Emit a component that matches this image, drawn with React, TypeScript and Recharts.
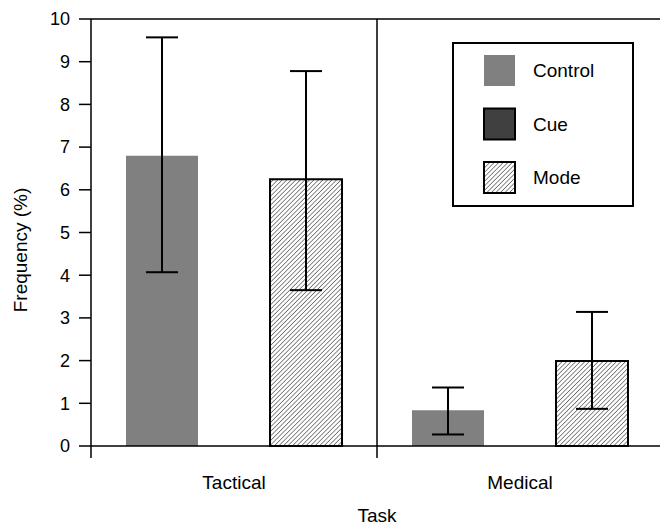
import {
  Bar,
  BarChart,
  ErrorBar,
  ReferenceLine,
  XAxis,
  YAxis,
} from "recharts";

const tasks = ["Tactical", "Medical"];
const seriesNames = ["Control", "Cue", "Mode"];
const controlValues = [6.8, 0.84];
const controlLow = [4.07, 0.27];
const controlHigh = [9.57, 1.37];
const cueValues: (number | null)[] = [null, null];
const modeValues = [6.25, 1.99];
const modeLow = [3.65, 0.87];
const modeHigh = [8.78, 3.14];
const yTicks = [0, 1, 2, 3, 4, 5, 6, 7, 8, 9, 10];

const data = tasks.map((task, i) => ({
  task,
  control: controlValues[i],
  cue: cueValues[i],
  mode: modeValues[i],
  controlErr: [controlValues[i] - controlLow[i], controlHigh[i] - controlValues[i]],
  modeErr: [modeValues[i] - modeLow[i], modeHigh[i] - modeValues[i]],
}));

const CHART_W = 665;
const CHART_H = 527;
const Y_AXIS_W = 91;
const MARGIN_RIGHT = 2;
const BAND = (CHART_W - Y_AXIS_W - MARGIN_RIGHT) / tasks.length;
const FONT = "'Liberation Sans', Arial, sans-serif";

const swatches = [
  { fill: "#808080", stroke: "none" },
  { fill: "#404040", stroke: "#000" },
  { fill: "url(#hatch)", stroke: "#000" },
];

const TaskTick = (props: any) => {
  const { x, y, payload } = props;
  return (
    <g>
      <line x1={x - BAND / 2} x2={x - BAND / 2} y1={y - 12} y2={y} stroke="#000" strokeWidth={1.5} />
      <text x={x} y={y + 31} textAnchor="middle" fontSize={19} fontFamily={FONT} fill="#000">
        {payload.value}
      </text>
    </g>
  );
};

export default function App() {
  return (
    <div style={{ position: "absolute", left: 0, top: 0, width: 660, height: 527, overflow: "hidden", background: "#fff" }}>
      <svg width={0} height={0} style={{ position: "absolute" }}>
        <defs>
          <pattern id="hatch" width={3.2} height={3.2} patternUnits="userSpaceOnUse" patternTransform="rotate(45)">
            <rect width={3.2} height={3.2} fill="#fff" />
            <line x1={0} y1={0} x2={0} y2={3.2} stroke="#3a3a3a" strokeWidth={1.2} />
          </pattern>
        </defs>
      </svg>
      <BarChart
        width={CHART_W}
        height={CHART_H}
        data={data}
        margin={{ top: 19, right: MARGIN_RIGHT, left: 0, bottom: 0 }}
        barSize={72}
        barGap={0}
      >
        <XAxis
          dataKey="task"
          height={81}
          axisLine={{ stroke: "#000", strokeWidth: 1.5 }}
          tickLine={false}
          tickSize={12}
          tickMargin={0}
          tick={<TaskTick />}
          label={{ value: "Task", position: "insideBottom", offset: 5, fontSize: 19, fontFamily: FONT, fill: "#000" }}
        />
        <YAxis
          width={Y_AXIS_W}
          domain={[0, 10]}
          ticks={yTicks}
          interval={0}
          axisLine={{ stroke: "#000", strokeWidth: 1.5 }}
          tickLine={{ stroke: "#000", strokeWidth: 1.5 }}
          tickSize={12}
          tickMargin={9}
          tick={{ fontSize: 18, fontFamily: FONT, fill: "#000" }}
          label={{
            content: () => (
              <text
                x={27}
                y={250}
                transform="rotate(-90 27 250)"
                textAnchor="middle"
                fontSize={19}
                fontFamily={FONT}
                fill="#000"
              >
                Frequency (%)
              </text>
            ),
          }}
        />
        <ReferenceLine y={10} stroke="#000" strokeWidth={1.5} />
        <ReferenceLine x="Medical" position="start" stroke="#000" strokeWidth={1.5} />
        <Bar dataKey="control" name={seriesNames[0]} fill="#808080" isAnimationActive={false}>
          <ErrorBar dataKey="controlErr" width={16} stroke="#000" strokeWidth={2} />
        </Bar>
        <Bar dataKey="cue" name={seriesNames[1]} fill="#404040" stroke="#000" strokeWidth={2} isAnimationActive={false} />
        <Bar dataKey="mode" name={seriesNames[2]} fill="url(#hatch)" stroke="#000" strokeWidth={2} isAnimationActive={false}>
          <ErrorBar dataKey="modeErr" width={16} stroke="#000" strokeWidth={2} />
        </Bar>
      </BarChart>
      <svg width={660} height={527} style={{ position: "absolute", left: 0, top: 0, pointerEvents: "none" }}>
        <rect x={453} y={43} width={180} height={163} fill="#fff" stroke="#000" strokeWidth={2} />
        {seriesNames.map((name, i) => (
          <g key={name}>
            <rect
              x={484}
              y={55 + i * 53.5}
              width={31}
              height={31}
              fill={swatches[i].fill}
              stroke={swatches[i].stroke}
              strokeWidth={2}
            />
            <text x={533} y={77 + i * 53.5} fontSize={19} fontFamily={FONT} fill="#000">
              {name}
            </text>
          </g>
        ))}
      </svg>
    </div>
  );
}
